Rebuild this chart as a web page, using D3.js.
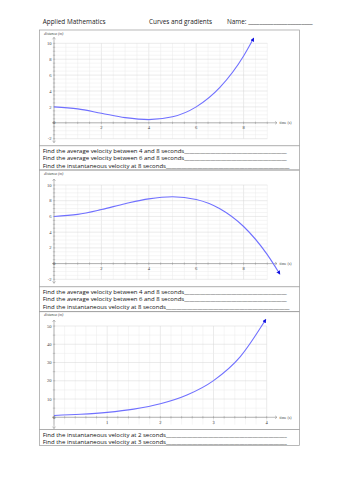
<!DOCTYPE html>
<html>
<head>
<meta charset="utf-8">
<script src="https://cdn.jsdelivr.net/npm/d3@7"></script>
<style>
body { margin: 0; background: #fff; }
</style>
</head>
<body>
<div id="sheet"></div>
<script>
// values: [time (s), distance (m)]
var curve1 = [[0, 2], [1, 1.75], [2, 1.2], [3, 0.65], [4, 0.4], [5, 0.75], [6, 2], [7, 4.45], [8, 8.4], [8.4, 10.5]];
var curve2 = [[0, 6], [1, 6.26], [2, 6.88], [3, 7.62], [4, 8.24], [5, 8.5], [6, 8.16], [7, 6.98], [8, 4.72], [9, 1.14], [9.5, -1.2]];
var curve3 = [[0, 1], [0.5, 1.65], [1, 2.72], [1.5, 4.48], [2, 7.39], [2.5, 12.2], [3, 20.1], [3.5, 33.1], [3.97, 53]];

var xTicksA = [2, 4, 6, 8];
var yTicksA = [-2, 2, 4, 6, 8, 10];
var xTicksB = [1, 2, 3, 4];
var yTicksB = [10, 20, 30, 40, 50];

var questions1 = ["Find the average velocity between 4 and 8 seconds",
                  "Find the average velocity between 6 and 8 seconds",
                  "Find the instantaneous velocity at 8 seconds"];
var questions2 = ["Find the average velocity between 4 and 8 seconds",
                  "Find the average velocity between 6 and 8 seconds",
                  "Find the instantaneous velocity at 8 seconds"];
var questions3 = ["Find the instantaneous velocity at 2 seconds",
                  "Find the instantaneous velocity at 3 seconds"];

var W = 354, H = 500;
var svg = d3.select("#sheet").append("svg")
  .attr("width", W).attr("height", H);

var sans = "'Open Sans', 'Noto Sans', sans-serif";
var serif = "'Liberation Serif', 'DejaVu Serif', serif";

svg.append("defs").append("marker")
  .attr("id", "tip")
  .attr("viewBox", "0 0 10 10")
  .attr("refX", 5).attr("refY", 5)
  .attr("markerWidth", 4).attr("markerHeight", 4)
  .attr("markerUnits", "userSpaceOnUse")
  .attr("orient", "auto")
  .append("path")
  .attr("d", "M0,0 L10,5 L0,10 z")
  .attr("fill", "#1010e0");

// pad a text with underscores until it reaches a given x
function underline(sel, endX) {
  var base = sel.text(), n = 0;
  while (sel.node().getBBox().x + sel.node().getComputedTextLength() < endX && n < 200) {
    n++;
    sel.text(base + "_".repeat(n));
  }
}

// header
var head = svg.append("g").style("font-family", sans).style("font-size", "6.4px").attr("fill", "#222");
head.append("text").attr("x", 42.7).attr("y", 23.5).text("Applied Mathematics");
head.append("text").attr("x", 149).attr("y", 23.5).text("Curves and gradients");
head.append("text").attr("x", 227).attr("y", 23.5).text("Name: ").call(underline, 311);

var panels = [
  { top: 30, chartBottom: 145.7, bottom: 170, data: curve1, questions: questions1,
    xd: [0, 9], xr: [54, 267.3], yd: [-2, 10], yr: [138.7, 43.3],
    xStep: 0.5, yStep: 0.5, xMajor: 2, yMajor: 2, xTicks: xTicksA, yTicks: yTicksA },
  { top: 170, chartBottom: 286.7, bottom: 311.7, data: curve2, questions: questions2,
    xd: [0, 9], xr: [54, 267.3], yd: [-2, 10], yr: [279.3, 185],
    xStep: 0.5, yStep: 0.5, xMajor: 2, yMajor: 2, xTicks: xTicksA, yTicks: yTicksA },
  { top: 311.7, chartBottom: 429.5, bottom: 445.5, data: curve3, questions: questions3,
    xd: [0, 4], xr: [54, 266.7], yd: [-4, 50], yr: [424.6, 326],
    xStep: 0.2, yStep: 5, xMajor: 1, yMajor: 10, xTicks: xTicksB, yTicks: yTicksB }
];

panels.forEach(function (p) {
  var g = svg.append("g");
  var x = d3.scaleLinear().domain(p.xd).range(p.xr);
  var y = d3.scaleLinear().domain(p.yd).range(p.yr);

  // frame of the graph and of the question box
  g.append("rect")
    .attr("x", 39.5).attr("y", p.top)
    .attr("width", 260).attr("height", p.bottom - p.top)
    .attr("fill", "none").attr("stroke", "#9a9a9a").attr("stroke-width", 0.7);
  g.append("line")
    .attr("x1", 39.5).attr("x2", 299.5)
    .attr("y1", p.chartBottom).attr("y2", p.chartBottom)
    .attr("stroke", "#8a8a8a").attr("stroke-width", 0.7);

  // grid
  var xs = d3.range(p.xd[0], p.xd[1] + 1e-6, p.xStep);
  var ys = d3.range(Math.ceil(p.yd[0] / p.yStep) * p.yStep, p.yd[1] + 1e-6, p.yStep);
  function isMajor(v, m) { return Math.abs(v / m - Math.round(v / m)) < 1e-6; }

  g.selectAll(".gx").data(xs).enter().append("line")
    .attr("x1", function (d) { return x(d); }).attr("x2", function (d) { return x(d); })
    .attr("y1", y(p.yd[0])).attr("y2", y(p.yd[1]))
    .attr("stroke", function (d) { return isMajor(d, p.xMajor) ? "#d6d6d6" : "#ebebeb"; })
    .attr("stroke-width", 0.5);
  g.selectAll(".gy").data(ys).enter().append("line")
    .attr("x1", x(p.xd[0])).attr("x2", x(p.xd[1]))
    .attr("y1", function (d) { return y(d); }).attr("y2", function (d) { return y(d); })
    .attr("stroke", function (d) { return isMajor(d, p.yMajor) ? "#d6d6d6" : "#ebebeb"; })
    .attr("stroke-width", 0.5);

  // axes
  var ax = "#8c8c8c";
  var x0 = x(0), y0 = y(0);
  var yTop = p.yr[1] - 6, yBot = p.yr[0] + 4;
  g.append("line").attr("x1", x0).attr("x2", x0).attr("y1", yTop).attr("y2", yBot)
    .attr("stroke", ax).attr("stroke-width", 0.6);
  g.append("line").attr("x1", x0 - 2).attr("x2", 277).attr("y1", y0).attr("y2", y0)
    .attr("stroke", ax).attr("stroke-width", 0.6);
  g.append("path").attr("d", "M" + (x0 - 1.5) + "," + (yTop + 2) + "L" + x0 + "," + yTop + "L" + (x0 + 1.5) + "," + (yTop + 2))
    .attr("fill", "none").attr("stroke", ax).attr("stroke-width", 0.5);
  g.append("path").attr("d", "M" + (x0 - 1.5) + "," + (yBot - 2) + "L" + x0 + "," + yBot + "L" + (x0 + 1.5) + "," + (yBot - 2))
    .attr("fill", "none").attr("stroke", ax).attr("stroke-width", 0.5);
  g.append("path").attr("d", "M275,"+ (y0 - 1.5) + "L277," + y0 + "L275," + (y0 + 1.5))
    .attr("fill", "none").attr("stroke", ax).attr("stroke-width", 0.5);

  // small ticks along the axes
  g.selectAll(".tx").data(xs.filter(function (d) { return d > 0; })).enter().append("line")
    .attr("x1", function (d) { return x(d); }).attr("x2", function (d) { return x(d); })
    .attr("y1", y0 - 1.2).attr("y2", y0 + 1.2)
    .attr("stroke", ax).attr("stroke-width", 0.4);
  g.selectAll(".ty").data(ys).enter().append("line")
    .attr("x1", x0 - 1.2).attr("x2", x0 + 1.2)
    .attr("y1", function (d) { return y(d); }).attr("y2", function (d) { return y(d); })
    .attr("stroke", ax).attr("stroke-width", 0.4);

  // tick labels
  var lab = g.append("g").style("font-family", serif).style("font-size", "4.6px").attr("fill", "#444");
  lab.selectAll(".ly").data(p.yTicks).enter().append("text")
    .attr("x", x0 - 2.5).attr("y", function (d) { return y(d); })
    .attr("dy", "0.35em").attr("text-anchor", "end")
    .text(function (d) { return d; });
  lab.append("text").attr("x", x0 + 1.2).attr("y", y0).attr("dy", "0.35em")
    .attr("text-anchor", "end").text("0");
  lab.selectAll(".lx").data(p.xTicks).enter().append("text")
    .attr("x", function (d) { return x(d); }).attr("y", y0 + 6.5)
    .attr("text-anchor", "middle")
    .text(function (d) { return d; });
  lab.append("text").attr("x", 44).attr("y", p.top + 4.6)
    .style("font-size", "3.9px").style("font-style", "italic").text("distance (m)");
  lab.append("text").attr("x", 279.5).attr("y", y0).attr("dy", "0.35em")
    .style("font-size", "3.9px").text("time (s)");

  // the curve
  var line = d3.line()
    .x(function (d) { return x(d[0]); })
    .y(function (d) { return y(d[1]); })
    .curve(d3.curveMonotoneX);
  g.append("path").datum(p.data)
    .attr("d", line)
    .attr("fill", "none")
    .attr("stroke", "#7070ff")
    .attr("stroke-width", 1.1)
    .attr("marker-end", "url(#tip)");

  // questions
  var q = g.append("g").style("font-family", sans).style("font-size", "6px").attr("fill", "#111");
  p.questions.forEach(function (t, i) {
    var tx = q.append("text").attr("x", 42.7).attr("y", p.chartBottom + 7 + i * 7.6).text(t);
    tx.call(underline, i == 2 ? 287 : 285.5);
  });
});
</script>
</body>
</html>
